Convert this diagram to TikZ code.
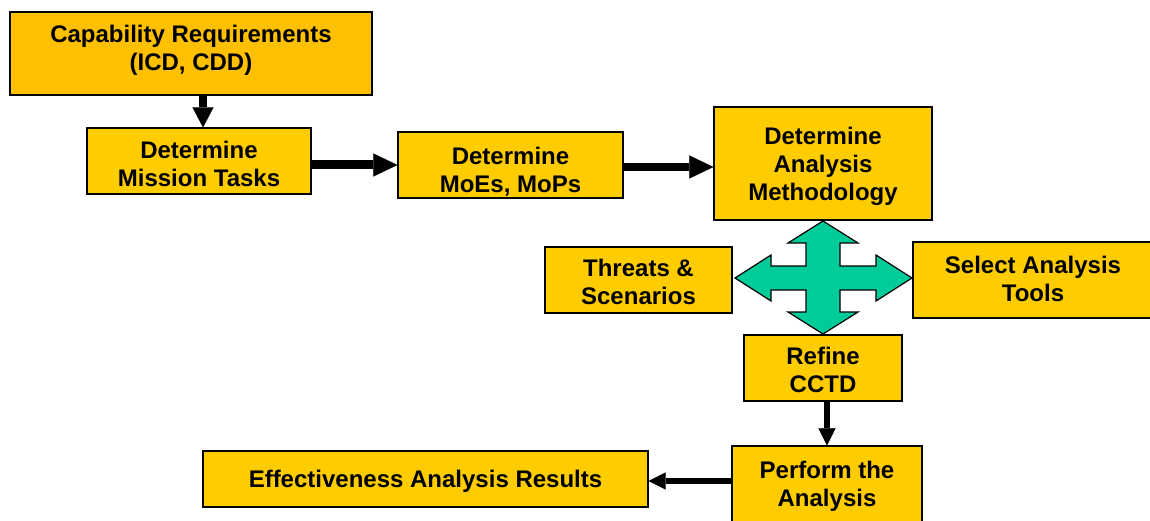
\documentclass[tikz,border=0pt]{standalone}
\usepackage{fontspec}
\setmainfont{Liberation Sans}
\usetikzlibrary{arrows.meta}

\definecolor{boxgold}{HTML}{FFCC00}
\definecolor{boxamber}{HTML}{FFC000}
\definecolor{hubgreen}{HTML}{00CC99}

% centred lines of a step label, raised by #1 without changing the box size
\newcommand\steptext[2]{\raisebox{#1}[\height][\depth]{\begin{tabular}{@{}c@{}}#2\end{tabular}}}

\tikzset{
  stepbox/.style={draw=black, line width=1.2pt, fill=boxgold, inner sep=0pt,
    align=center, font=\fontsize{24}{28}\selectfont\bfseries, text=black},
  bigarrow/.style={line width=8.5pt, -{Triangle[length=24pt,width=23pt,line width=0.1pt]}},
  smallarrow/.style={line width=6pt, -{Triangle[length=17pt,width=17pt,line width=0.1pt]}},
  hub/.style={draw=black, line width=1.2pt, fill=hubgreen, line join=miter}
}

\begin{document}
\begin{tikzpicture}[x=1pt, y=-1pt]
\useasboundingbox (0,0) rectangle (1150,521);

% process steps
\node[stepbox, fill=boxamber, minimum width=362pt, minimum height=83pt] (cap) at (191,53.5)
  {\steptext{3pt}{Capability Requirements\\(ICD, CDD)}};
\node[stepbox, minimum width=224pt, minimum height=66pt] (mission) at (199,161)
  {\steptext{-6pt}{Determine\\Mission Tasks}};
\node[stepbox, minimum width=225pt, minimum height=66pt] (moe) at (510.5,165)
  {\steptext{-8pt}{Determine\\MoEs, MoPs}};
\node[stepbox, minimum width=218pt, minimum height=113pt] (method) at (823,163.5)
  {\steptext{-3pt}{Determine\\Analysis\\Methodology}};
\node[stepbox, minimum width=187pt, minimum height=66pt] (threats) at (638.5,280)
  {\steptext{-5pt}{Threats \&\\Scenarios}};
\node[stepbox, minimum width=240pt, minimum height=76pt] (tools) at (1033,280)
  {\steptext{-2pt}{Select Analysis\\Tools}};
\node[stepbox, minimum width=158pt, minimum height=66pt] (refine) at (823,368)
  {\steptext{-5pt}{Refine\\CCTD}};
\node[stepbox, minimum width=190pt, minimum height=77pt] (perform) at (827,484.5)
  {\steptext{-2pt}{Perform the\\Analysis}};
\node[stepbox, minimum width=445pt, minimum height=56pt] (results) at (425.5,479)
  {\steptext{-3pt}{Effectiveness Analysis Results}};

% guide coordinates for the connector lines
\coordinate (a1) at (203,0);
\coordinate (a3) at (0,167);
\coordinate (a5) at (0,481);

% connectors
\draw[bigarrow, -{Triangle[length=20pt,width=21pt,line width=0.1pt]}, line width=8pt]
  (cap.south -| a1) -- (mission.north -| a1);
\draw[bigarrow, line width=9pt] (mission.east |- moe.center) -- (moe.west);
\draw[bigarrow] (moe.east |- a3) -- (method.west |- a3);
\draw[smallarrow] (refine.south -| perform.north) -- (perform.north);
\draw[smallarrow] (perform.west |- a5) -- (results.east |- a5);

% four-way arrow between the methodology, threats, tools and refine steps
\coordinate (hubc) at (823,278);
\draw[hub, shift={(hubc)}]
  (0,-57) -- (35,-35) -- (17,-35) -- (17,-12) -- (53,-12) -- (53,-23) -- (89,0)
  -- (53,23) -- (53,12) -- (17,12) -- (17,34) -- (35,34) -- (0,56)
  -- (-35,34) -- (-17,34) -- (-17,12) -- (-52,12) -- (-52,23) -- (-88,0)
  -- (-52,-23) -- (-52,-12) -- (-17,-12) -- (-17,-35) -- (-35,-35) -- cycle;
\end{tikzpicture}
\end{document}
